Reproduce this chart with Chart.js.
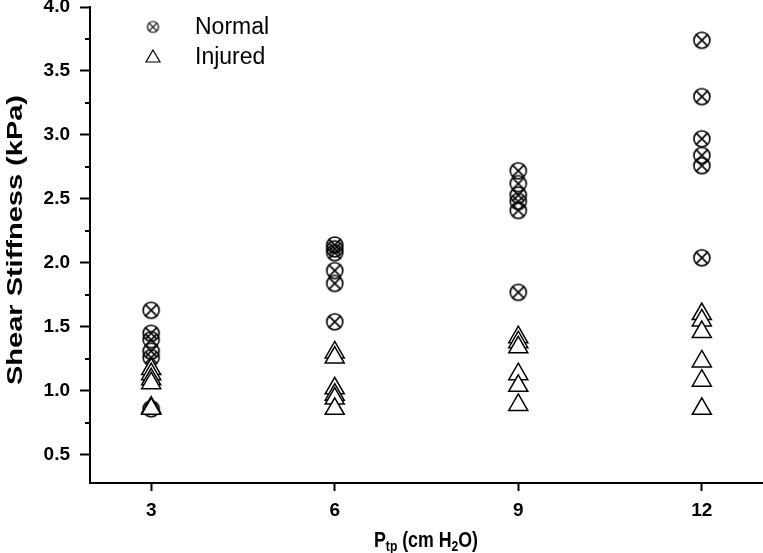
<!DOCTYPE html>
<html>
<head>
<meta charset="utf-8">
<script src="https://cdn.jsdelivr.net/npm/chart.js@4/dist/chart.umd.min.js"></script>
<style>
  html, body { margin: 0; padding: 0; background: #fff; }
  #wrap { width: 763px; height: 553px; }
</style>
</head>
<body>
<div id="wrap"><canvas id="chart"></canvas></div>
<script>
// P_tp levels (cm H2O)
const pressures = [3, 6, 9, 12];

// shear stiffness (kPa), one row per pressure
const normalStiffness = [
  [1.63, 1.45, 1.40, 1.31, 1.26, 0.86],
  [2.14, 2.11, 2.08, 1.94, 1.84, 1.54],
  [2.72, 2.62, 2.53, 2.48, 2.41, 1.77],
  [3.74, 3.30, 2.97, 2.84, 2.76, 2.04]
];
const injuredStiffness = [
  [1.17, 1.13, 1.09, 1.06, 0.87, 0.86],
  [1.30, 1.26, 1.02, 0.97, 0.94, 0.86],
  [1.42, 1.38, 1.34, 1.13, 1.04, 0.89],
  [1.60, 1.55, 1.46, 1.23, 1.08, 0.86]
];

const yTickValues = [0.5, 1.0, 1.5, 2.0, 2.5, 3.0, 3.5, 4.0];
const yMinorTickValues = [0.75, 1.25, 1.75, 2.25, 2.75, 3.25, 3.75];

const yTitle = "Shear Stiffness (kPa)";
const FONT = "'Liberation Sans', Arial, sans-serif";

function toPoints(rows) {
  const pts = [];
  rows.forEach((row, i) => row.forEach((v) => pts.push({ x: pressures[i], y: v })));
  return pts;
}

// circle with an x inside
function crossedCircle(r, lw) {
  const size = Math.ceil(2 * r + lw + 2);
  const c = document.createElement("canvas");
  c.width = size;
  c.height = size;
  const g = c.getContext("2d");
  const m = size / 2;
  g.strokeStyle = "#000";
  g.lineWidth = lw;
  g.beginPath();
  g.arc(m, m, r, 0, Math.PI * 2);
  g.stroke();
  const d = r * 0.74;
  g.beginPath();
  g.moveTo(m - d, m - d);
  g.lineTo(m + d, m + d);
  g.moveTo(m + d, m - d);
  g.lineTo(m - d, m + d);
  g.stroke();
  return c;
}

const normalMarker = crossedCircle(8, 1.6);
const legendNormal = crossedCircle(5.5, 1.2);

const extras = {
  id: "extras",
  afterDraw(chart) {
    const ctx = chart.ctx;
    const y = chart.scales.y;
    ctx.save();
    // minor ticks on y
    ctx.strokeStyle = "#000";
    ctx.lineWidth = 2;
    yMinorTickValues.forEach((v) => {
      const py = Math.round(y.getPixelForValue(v));
      ctx.beginPath();
      ctx.moveTo(y.right - 5, py);
      ctx.lineTo(y.right, py);
      ctx.stroke();
    });

    // y axis title
    ctx.save();
    ctx.fillStyle = "#000";
    ctx.font = "bold 22px " + FONT;
    ctx.textAlign = "center";
    ctx.textBaseline = "middle";
    const tw = ctx.measureText(yTitle).width;
    ctx.translate(16, 240);
    ctx.rotate(-Math.PI / 2);
    ctx.scale(290 / tw, 1);
    ctx.fillText(yTitle, 0, 0);
    ctx.restore();

    // x axis title with subscripts
    ctx.save();
    ctx.fillStyle = "#000";
    ctx.textBaseline = "alphabetic";
    const parts = [
      { t: "P", f: "bold 22px " + FONT, dy: 0 },
      { t: "tp", f: "bold 15px " + FONT, dy: 4 },
      { t: " (cm H", f: "bold 22px " + FONT, dy: 0 },
      { t: "2", f: "bold 15px " + FONT, dy: 4 },
      { t: "O)", f: "bold 22px " + FONT, dy: 0 }
    ];
    let total = 0;
    parts.forEach((p) => { ctx.font = p.f; p.w = ctx.measureText(p.t).width; total += p.w; });
    const tgt = 104;
    ctx.translate(426 - tgt / 2, 547);
    ctx.scale(tgt / total, 1);
    let px = 0;
    parts.forEach((p) => {
      ctx.font = p.f;
      ctx.fillText(p.t, px, p.dy);
      px += p.w;
    });
    ctx.restore();

    // legend
    const items = [
      { label: chart.data.datasets[0].label, y: 27, kind: "normal" },
      { label: chart.data.datasets[1].label, y: 57, kind: "injured" }
    ];
    items.forEach((it) => {
      if (it.kind === "normal") {
        ctx.drawImage(legendNormal, 153 - legendNormal.width / 2, it.y - legendNormal.height / 2);
      } else {
        ctx.lineWidth = 1.2;
        ctx.strokeStyle = "#000";
        ctx.fillStyle = "#fff";
        ctx.beginPath();
        ctx.moveTo(153, it.y - 7);
        ctx.lineTo(160, it.y + 5);
        ctx.lineTo(146, it.y + 5);
        ctx.closePath();
        ctx.fill();
        ctx.stroke();
      }
      ctx.fillStyle = "#000";
      ctx.font = "23px " + FONT;
      ctx.textBaseline = "middle";
      ctx.textAlign = "left";
      ctx.fillText(it.label, 195, it.y + 1);
    });
    ctx.restore();
  }
};

new Chart(document.getElementById("chart"), {
  type: "scatter",
  data: {
    datasets: [
      {
        label: "Normal",
        data: toPoints(normalStiffness),
        pointStyle: normalMarker,
        order: 1
      },
      {
        label: "Injured",
        data: toPoints(injuredStiffness),
        pointStyle: "triangle",
        pointRadius: 11,
        pointBorderWidth: 1.5,
        pointBorderColor: "#000",
        pointBackgroundColor: "#fff",
        order: 0
      }
    ]
  },
  options: {
    responsive: true,
    maintainAspectRatio: false,
    animation: false,
    layout: { autoPadding: false, padding: { left: 0, right: 0, top: 7, bottom: 0 } },
    plugins: {
      legend: { display: false },
      tooltip: { enabled: false }
    },
    scales: {
      x: {
        type: "linear",
        min: 2,
        max: 13,
        afterBuildTicks: (s) => { s.ticks = pressures.map((v) => ({ value: v })); },
        afterFit: (s) => { s.height = 70; s.paddingLeft = 0; s.paddingRight = 0; },
        border: { color: "#000", width: 2 },
        grid: { drawOnChartArea: false, tickLength: 8, tickWidth: 2, tickColor: "#000" },
        ticks: {
          color: "#000",
          padding: 8,
          maxRotation: 0,
          font: { family: FONT, size: 19, weight: "bold" }
        }
      },
      y: {
        type: "linear",
        min: 0.28,
        max: 4.0,
        afterBuildTicks: (s) => { s.ticks = yTickValues.map((v) => ({ value: v })); },
        afterFit: (s) => { s.width = 90; s.paddingTop = 0; s.paddingBottom = 0; },
        border: { color: "#000", width: 2 },
        grid: { drawOnChartArea: false, tickLength: 10, tickWidth: 2, tickColor: "#000" },
        ticks: {
          color: "#000",
          padding: 10,
          callback: (v) => Number(v).toFixed(1),
          font: { family: FONT, size: 19, weight: "bold" }
        }
      }
    }
  },
  plugins: [extras]
});
</script>
</body>
</html>
